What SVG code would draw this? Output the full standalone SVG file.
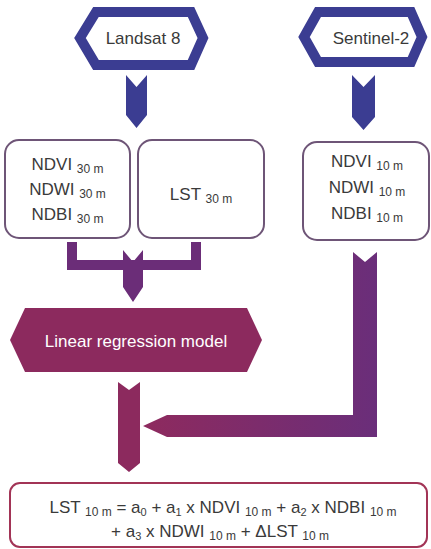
<svg xmlns="http://www.w3.org/2000/svg" width="431" height="549" viewBox="0 0 431 549">
<style>
text{font-family:"Liberation Sans",Arial,sans-serif;fill:#3a3a3a;font-size:17px}
.sub{font-size:12px}
.sub2{font-size:11px}
.src{fill:#fff;stroke:#3b3d92;stroke-width:10;stroke-linejoin:miter}
.box{fill:#fff;stroke:#6e5577;stroke-width:2}
.blue{fill:#3b3d92}
.purple{fill:#6b2d78}
.mag{fill:#8c2a5e}
</style>
<defs>
<linearGradient id="g1" gradientUnits="userSpaceOnUse" x1="143" y1="0" x2="377" y2="0">
<stop offset="0" stop-color="#8e2a5e"/>
<stop offset="1" stop-color="#6a2e7a"/>
</linearGradient>
</defs>
<g id="landsat">
<polygon class="src" points="80,38 96,12 191,12 203,38 191,65 96,65"/>
<text x="143" y="44" text-anchor="middle">Landsat 8</text>
</g>
<g id="sentinel">
<polygon class="src" points="304,37 318,12 411,12 422,37 411,62 318,62"/>
<text x="371" y="44" text-anchor="middle">Sentinel-2</text>
</g>
<g id="indices30">
<rect class="box" x="5" y="140" width="125" height="98" rx="14"/>
<text x="67.5" y="170" text-anchor="middle">NDVI <tspan class="sub" dy="3">30 m</tspan></text>
<text x="67.5" y="195" text-anchor="middle">NDWI <tspan class="sub" dy="3">30 m</tspan></text>
<text x="67.5" y="220" text-anchor="middle">NDBI <tspan class="sub" dy="3">30 m</tspan></text>
</g>
<g id="lst30">
<rect class="box" x="138" y="140" width="126" height="98" rx="14"/>
<text x="201" y="200" text-anchor="middle">LST <tspan class="sub" dy="3">30 m</tspan></text>
</g>
<g id="indices10">
<rect class="box" x="303" y="142" width="126" height="98" rx="14"/>
<text x="367" y="167" text-anchor="middle">NDVI <tspan class="sub" dy="3">10 m</tspan></text>
<text x="367" y="193" text-anchor="middle">NDWI <tspan class="sub" dy="3">10 m</tspan></text>
<text x="367" y="219" text-anchor="middle">NDBI <tspan class="sub" dy="3">10 m</tspan></text>
</g>
<g id="regression">
<polygon class="mag" points="10,340 25,308 247,308 262,340 247,372 25,372"/>
<text x="136" y="347" text-anchor="middle" style="fill:#fff">Linear regression model</text>
</g>
<g id="equation">
<rect x="10" y="483" width="417" height="64" rx="10" fill="#fff" stroke="#a23456" stroke-width="2"/>
<text x="223" y="513" text-anchor="middle">LST <tspan class="sub" dy="3">10 m</tspan><tspan dy="-3"> = a</tspan><tspan class="sub2" dy="3">0</tspan><tspan dy="-3"> + a</tspan><tspan class="sub2" dy="3">1</tspan><tspan dy="-3"> x NDVI </tspan><tspan class="sub" dy="3">10 m</tspan><tspan dy="-3"> + a</tspan><tspan class="sub2" dy="3">2</tspan><tspan dy="-3"> x NDBI </tspan><tspan class="sub" dy="3">10 m</tspan></text>
<text x="220" y="537" text-anchor="middle">+ a<tspan class="sub2" dy="3">3</tspan><tspan dy="-3"> x NDWI </tspan><tspan class="sub" dy="3">10 m</tspan><tspan dy="-3">  + ΔLST </tspan><tspan class="sub" dy="3">10 m</tspan></text>
</g>
<g id="connectors">
<polygon class="blue" points="126,75 136.5,87 147,75 147,115 136.5,128 126,115"/>
<polygon class="blue" points="352,75 363.5,87 375,75 375,117 363.5,130 352,117"/>
<polyline points="72,242 72,265 196,265 196,242" fill="none" stroke="#6b2d78" stroke-width="10" stroke-linejoin="miter"/>
<polygon class="purple" points="123,250 133,262 143,250 143,287 133,302 123,287"/>
<polygon class="mag" points="118,382 129,390 140,382 140,463 129,472 118,463"/>
<polygon fill="url(#g1)" points="143,426 167,415 353,415 353,252 365,262 377,252 377,437 167,437"/>
</g>
</svg>
